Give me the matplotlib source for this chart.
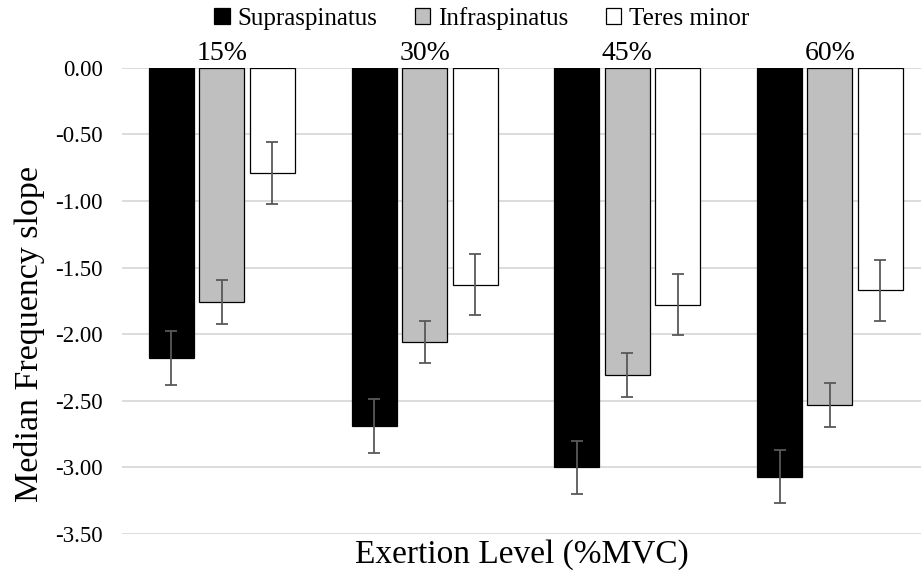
import numpy as np
import matplotlib
matplotlib.use('Agg')
import matplotlib.pyplot as plt

plt.rcParams['font.family'] = ['Liberation Serif', 'DejaVu Serif']

levels = ['15%', '30%', '45%', '60%']
muscles = ['Supraspinatus', 'Infraspinatus', 'Teres minor']
supra = [-2.18, -2.69, -3.00, -3.07]
infra = [-1.76, -2.06, -2.31, -2.53]
teres = [-0.79, -1.63, -1.78, -1.67]
supra_err = [0.20, 0.20, 0.20, 0.20]
infra_err = [0.165, 0.16, 0.165, 0.165]
teres_err = [0.23, 0.23, 0.23, 0.23]
yticks = [0.0, -0.5, -1.0, -1.5, -2.0, -2.5, -3.0, -3.5]

colors = ['black', '#bfbfbf', 'white']

fig = plt.figure(figsize=(9.21, 5.75), dpi=100)
ax = fig.add_axes([0.1325, 0.0713, 0.8675, 0.811])

x = np.arange(len(levels))
w = 0.222
step = 0.249
series = [(supra, supra_err), (infra, infra_err), (teres, teres_err)]
for i, (vals, errs) in enumerate(series):
    pos = x + (i - 1) * step
    ax.bar(pos, vals, width=w, color=colors[i], edgecolor='black', linewidth=0.9,
           label=muscles[i], zorder=2)
    ax.errorbar(pos, vals, yerr=errs, fmt='none', ecolor='#595959', elinewidth=1.3,
                capsize=4, capthick=1.3, zorder=3)

for xi, lab in zip(x, levels):
    ax.text(xi, 0.015, lab, ha='center', va='bottom', fontsize=20)

ax.set_xlim(-0.493, 3.449)
ax.set_ylim(-3.5, 0)
ax.set_yticks(yticks)
ax.set_yticklabels(['%.2f' % t for t in yticks], fontsize=16.5)
ax.set_xticks([])
ax.grid(axis='y', color='#d9d9d9', linewidth=1.3, zorder=0)
ax.set_axisbelow(True)
for s in ax.spines.values():
    s.set_visible(False)
ax.tick_params(axis='y', length=0, pad=14)
ax.set_ylabel('Median Frequency slope', fontsize=24.5)
ax.yaxis.set_label_coords(-0.096, 0.429)
ax.set_xlabel('Exertion Level (%MVC)', fontsize=24, labelpad=4)

fig.legend(loc='center', bbox_to_anchor=(0.523, 0.968), ncol=3, frameon=False,
           fontsize=18, handlelength=0.62, handleheight=0.62, handletextpad=0.3,
           columnspacing=1.5, borderaxespad=0, borderpad=0)

fig.savefig('out.png', dpi=100)
